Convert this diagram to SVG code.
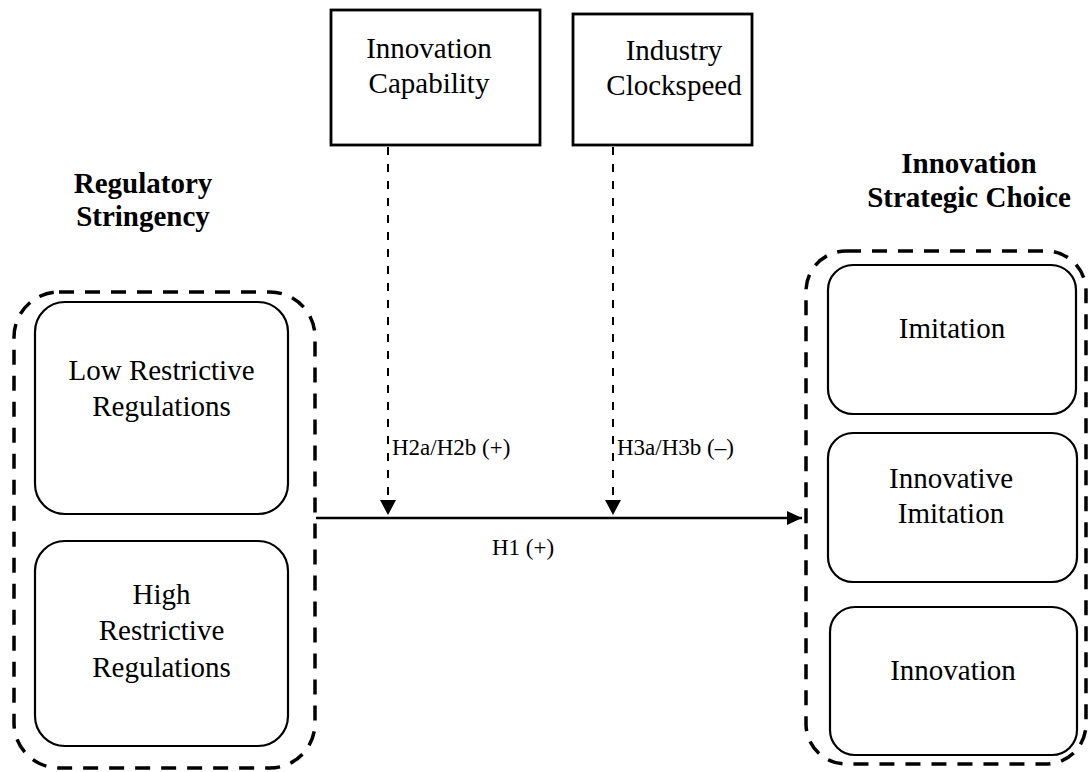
<svg xmlns="http://www.w3.org/2000/svg" width="1088" height="772" viewBox="0 0 1088 772">
  <style>
    text { font-family: "Liberation Serif", "Times New Roman", serif; fill: #000; }
    .lbl { font-size: 29px; text-anchor: middle; }
    .title { font-size: 29px; font-weight: bold; text-anchor: middle; }
    .hyp { font-size: 23px; }
    .group { fill: none; stroke: #000; stroke-width: 3.5; stroke-dasharray: 15 11; }
    .rbox { fill: #fff; stroke: #000; stroke-width: 2.2; }
    .sbox { fill: #fff; stroke: #000; stroke-width: 2.8; }
    .mod { fill: none; stroke: #000; stroke-width: 2; stroke-dasharray: 8 9; }
    .main { fill: none; stroke: #000; stroke-width: 2.5; }
  </style>
  <defs>
    <marker id="tri" viewBox="0 0 10 10" refX="10" refY="5" markerWidth="8" markerHeight="8" markerUnits="userSpaceOnUse" orient="auto">
      <path d="M0,0 L10,5 L0,10 Z" fill="#000"/>
    </marker>
    <marker id="triH" viewBox="0 0 10 10" refX="10" refY="5" markerWidth="15" markerHeight="14" markerUnits="userSpaceOnUse" orient="auto" preserveAspectRatio="none">
      <path d="M0,0 L10,5 L0,10 Z" fill="#000"/>
    </marker>
    <marker id="triV" viewBox="0 0 10 10" refX="10" refY="5" markerWidth="15" markerHeight="16" markerUnits="userSpaceOnUse" orient="auto" preserveAspectRatio="none">
      <path d="M0,0 L10,5 L0,10 Z" fill="#000"/>
    </marker>
  </defs>

  <!-- Left block: regulatory stringency -->
  <g id="regulatory-stringency">
    <text class="title" x="143" y="193">Regulatory</text>
    <text class="title" x="143" y="226">Stringency</text>
    <rect class="group" x="14" y="292" width="301" height="476" rx="45"/>
  </g>
  <g id="low-restrictive">
    <rect class="rbox" x="35" y="302" width="253" height="212" rx="30"/>
    <text class="lbl" x="161.5" y="380">Low Restrictive</text>
    <text class="lbl" x="161.5" y="416">Regulations</text>
  </g>
  <g id="high-restrictive">
    <rect class="rbox" x="35" y="541" width="253" height="205" rx="30"/>
    <text class="lbl" x="161.5" y="604">High</text>
    <text class="lbl" x="161.5" y="640">Restrictive</text>
    <text class="lbl" x="161.5" y="677">Regulations</text>
  </g>

  <!-- Right block: innovation strategic choice -->
  <g id="strategic-choice">
    <text class="title" x="969" y="173">Innovation</text>
    <text class="title" x="969" y="207">Strategic Choice</text>
    <rect class="group" x="806" y="251" width="280" height="513" rx="40"/>
  </g>
  <g id="imitation">
    <rect class="rbox" x="828" y="265" width="248" height="149" rx="25"/>
    <text class="lbl" x="952" y="338">Imitation</text>
  </g>
  <g id="innovative-imitation">
    <rect class="rbox" x="828" y="433" width="249" height="149" rx="25"/>
    <text class="lbl" x="951" y="488">Innovative</text>
    <text class="lbl" x="951" y="523">Imitation</text>
  </g>
  <g id="innovation">
    <rect class="rbox" x="830" y="607" width="247" height="148" rx="25"/>
    <text class="lbl" x="953" y="680">Innovation</text>
  </g>

  <!-- Moderators -->
  <g id="innovation-capability">
    <rect class="sbox" x="331" y="10" width="209" height="135"/>
    <text class="lbl" x="429" y="58">Innovation</text>
    <text class="lbl" x="429" y="93">Capability</text>
  </g>
  <g id="industry-clockspeed">
    <rect class="sbox" x="573" y="14" width="179" height="131"/>
    <text class="lbl" x="674" y="60">Industry</text>
    <text class="lbl" x="674" y="95">Clockspeed</text>
  </g>

  <!-- Connectors -->
  <g id="connectors">
    <line class="main" x1="316" y1="518" x2="802" y2="518" marker-end="url(#triH)"/>
    <line class="mod" x1="388" y1="147" x2="388" y2="515" marker-end="url(#triV)"/>
    <line class="mod" x1="613" y1="147" x2="613" y2="515" marker-end="url(#triV)"/>
    <text class="hyp" x="392" y="455">H2a/H2b (+)</text>
    <text class="hyp" x="617" y="455">H3a/H3b (–)</text>
    <text class="hyp" x="523" y="555" text-anchor="middle">H1 (+)</text>
  </g>
</svg>
